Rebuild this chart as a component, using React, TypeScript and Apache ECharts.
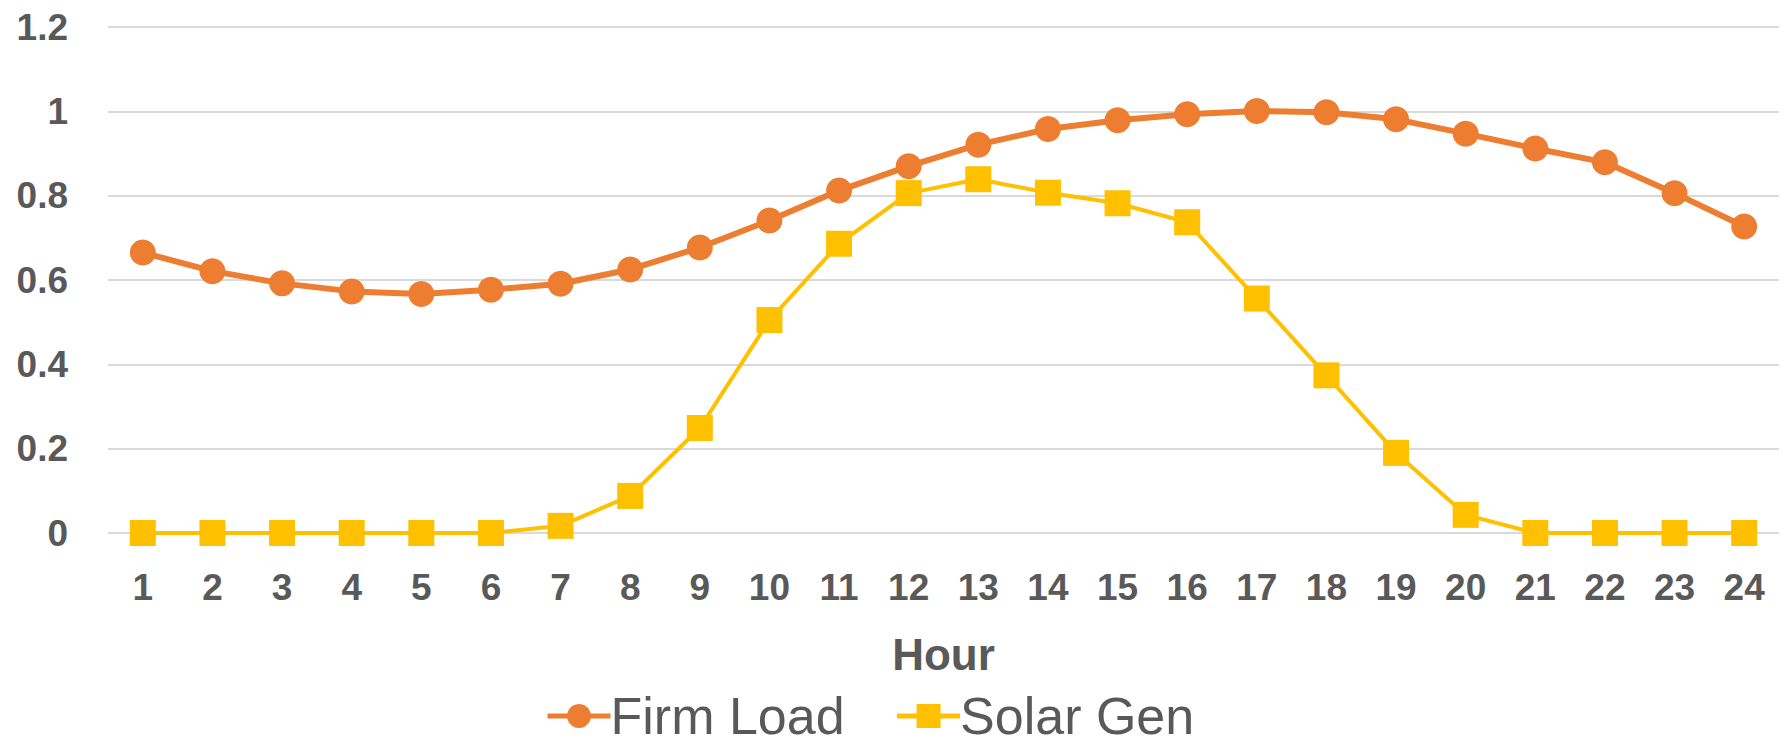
import React, { useEffect, useRef } from "react";
import * as echarts from "echarts";

const hours = ["1","2","3","4","5","6","7","8","9","10","11","12","13","14","15","16","17","18","19","20","21","22","23","24"];
const firmLoad = [0.665,0.621,0.592,0.573,0.567,0.577,0.591,0.625,0.677,0.741,0.812,0.870,0.921,0.958,0.979,0.993,1.001,0.998,0.981,0.947,0.912,0.879,0.806,0.727];
const solarGen = [0,0,0,0,0,0,0.017,0.088,0.249,0.505,0.686,0.806,0.839,0.807,0.782,0.737,0.556,0.374,0.19,0.043,0,0,0,0];

const FONT = "'Liberation Sans', Arial, sans-serif";
const GREY = "#595959";

export default function App() {
  const ref = useRef<HTMLDivElement>(null);
  useEffect(() => {
    if (!ref.current) return;
    const chart = echarts.init(ref.current, undefined, { renderer: "svg" });
    chart.setOption({
      animation: false,
      backgroundColor: "#ffffff",
      grid: { left: 108, right: 4, top: 27, bottom: 214, containLabel: false },
      legend: {
        left: 540,
        top: 685,
        itemWidth: 63,
        itemHeight: 30,
        itemGap: 50,
        lineStyle: { width: 5 },
        textStyle: { fontFamily: FONT, fontSize: 52, lineHeight: 50, color: GREY, padding: [0, 0, 0, -5] },
        data: ["Firm Load", "Solar Gen"],
      },
      xAxis: {
        type: "category",
        data: hours,
        boundaryGap: true,
        axisLine: { show: false },
        axisTick: { show: false },
        axisLabel: { fontFamily: FONT, fontSize: 37, fontWeight: "bold", color: GREY, margin: 36 },
        name: "Hour",
        nameLocation: "middle",
        nameGap: 99,
        nameTextStyle: { fontFamily: FONT, fontSize: 44, fontWeight: "bold", color: GREY },
      },
      yAxis: {
        type: "value",
        min: 0,
        max: 1.2,
        interval: 0.2,
        axisLine: { show: false },
        axisTick: { show: false },
        axisLabel: { fontFamily: FONT, fontSize: 37, fontWeight: "bold", color: GREY, margin: 40 },
        splitLine: { lineStyle: { color: "#d9d9d9", width: 2 } },
      },
      series: [
        {
          name: "Firm Load",
          type: "line",
          data: firmLoad,
          symbol: "circle",
          symbolSize: 26,
          itemStyle: { color: "#ED7D31" },
          lineStyle: { color: "#ED7D31", width: 6 },
          z: 3,
        },
        {
          name: "Solar Gen",
          type: "line",
          data: solarGen,
          symbol: "rect",
          symbolSize: 26,
          itemStyle: { color: "#FFC000" },
          lineStyle: { color: "#FFC000", width: 4 },
          z: 2,
        },
      ],
    });
    return () => chart.dispose();
  }, []);
  return (
    <div
      ref={ref}
      style={{ position: "fixed", left: 0, top: 0, width: 1783, height: 747, background: "#fff" }}
    />
  );
}
